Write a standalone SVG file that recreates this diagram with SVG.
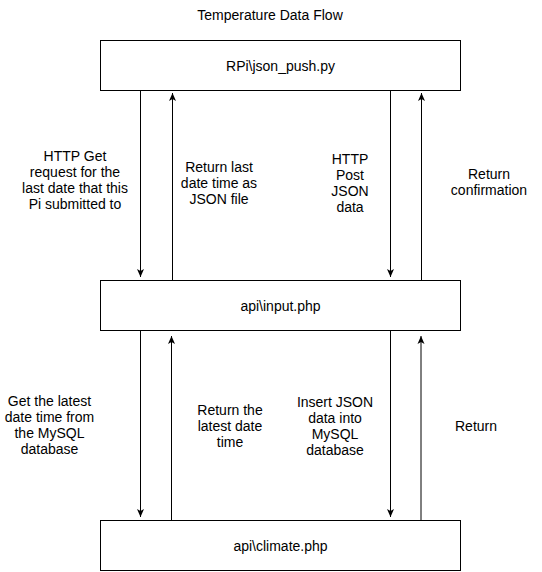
<svg xmlns="http://www.w3.org/2000/svg" width="542" height="572" viewBox="0 0 542 572">
  <style>
    .box { fill: #ffffff; stroke: #000000; stroke-width: 1; }
    .lbl { font-family: "Liberation Sans", Arial, sans-serif; font-size: 14px; fill: #000000; text-anchor: middle; }
    .edge { stroke: #000000; stroke-width: 1; fill: none; marker-end: url(#arr); }
  </style>
  <defs>
    <marker id="arr" markerUnits="userSpaceOnUse" markerWidth="10" markerHeight="10" viewBox="0 0 10 10" refX="9" refY="5" orient="auto">
      <path d="M1,1.5 L9,5 L1,8.5 L3,5 Z" fill="#000000"/>
    </marker>
  </defs>
  <rect width="542" height="572" fill="#ffffff"/>
  <text class="lbl" x="270" y="20">Temperature Data Flow</text>

  <g id="connectors">
    <line class="edge" x1="140.5" y1="90.5" x2="140.5" y2="277"/>
    <line class="edge" x1="172.5" y1="280.5" x2="172.5" y2="93"/>
    <line class="edge" x1="390.5" y1="90.5" x2="390.5" y2="277"/>
    <line class="edge" x1="421.5" y1="280.5" x2="421.5" y2="93"/>
    <line class="edge" x1="140.5" y1="330.5" x2="140.5" y2="517"/>
    <line class="edge" x1="171.5" y1="520.5" x2="171.5" y2="336"/>
    <line class="edge" x1="390.5" y1="330.5" x2="390.5" y2="517"/>
    <line class="edge" x1="421" y1="520.5" x2="421" y2="336"/>
  </g>

  <g id="edge-labels">
    <text class="lbl" x="75"><tspan x="75" y="161">HTTP Get</tspan><tspan x="75" y="177">request for the</tspan><tspan x="75" y="193">last date that this</tspan><tspan x="75" y="209">Pi submitted to</tspan></text>
    <text class="lbl" x="219"><tspan x="219" y="172">Return last</tspan><tspan x="219" y="188">date time as</tspan><tspan x="219" y="204">JSON file</tspan></text>
    <text class="lbl" x="350"><tspan x="350" y="164">HTTP</tspan><tspan x="350" y="180">Post</tspan><tspan x="350" y="196">JSON</tspan><tspan x="350" y="212">data</tspan></text>
    <text class="lbl" x="489"><tspan x="489" y="179">Return</tspan><tspan x="489" y="195">confirmation</tspan></text>
    <text class="lbl" x="49.5"><tspan x="49.5" y="406">Get the latest</tspan><tspan x="49.5" y="422">date time from</tspan><tspan x="49.5" y="438">the MySQL</tspan><tspan x="49.5" y="454">database</tspan></text>
    <text class="lbl" x="230"><tspan x="230" y="415">Return the</tspan><tspan x="230" y="431">latest date</tspan><tspan x="230" y="447">time</tspan></text>
    <text class="lbl" x="335"><tspan x="335" y="407">Insert JSON</tspan><tspan x="335" y="423">data into</tspan><tspan x="335" y="439">MySQL</tspan><tspan x="335" y="455">database</tspan></text>
    <text class="lbl" x="476" y="431">Return</text>
  </g>

  <g id="node-rpi">
    <rect class="box" x="100.5" y="40.5" width="360" height="50"/>
    <text class="lbl" x="280.5" y="70.5">RPi\json_push.py</text>
  </g>
  <g id="node-input">
    <rect class="box" x="100.5" y="280.5" width="360" height="50"/>
    <text class="lbl" x="280.5" y="310.5">api\input.php</text>
  </g>
  <g id="node-climate">
    <rect class="box" x="100.5" y="520.5" width="360" height="50"/>
    <text class="lbl" x="280.5" y="550.5">api\climate.php</text>
  </g>
</svg>
